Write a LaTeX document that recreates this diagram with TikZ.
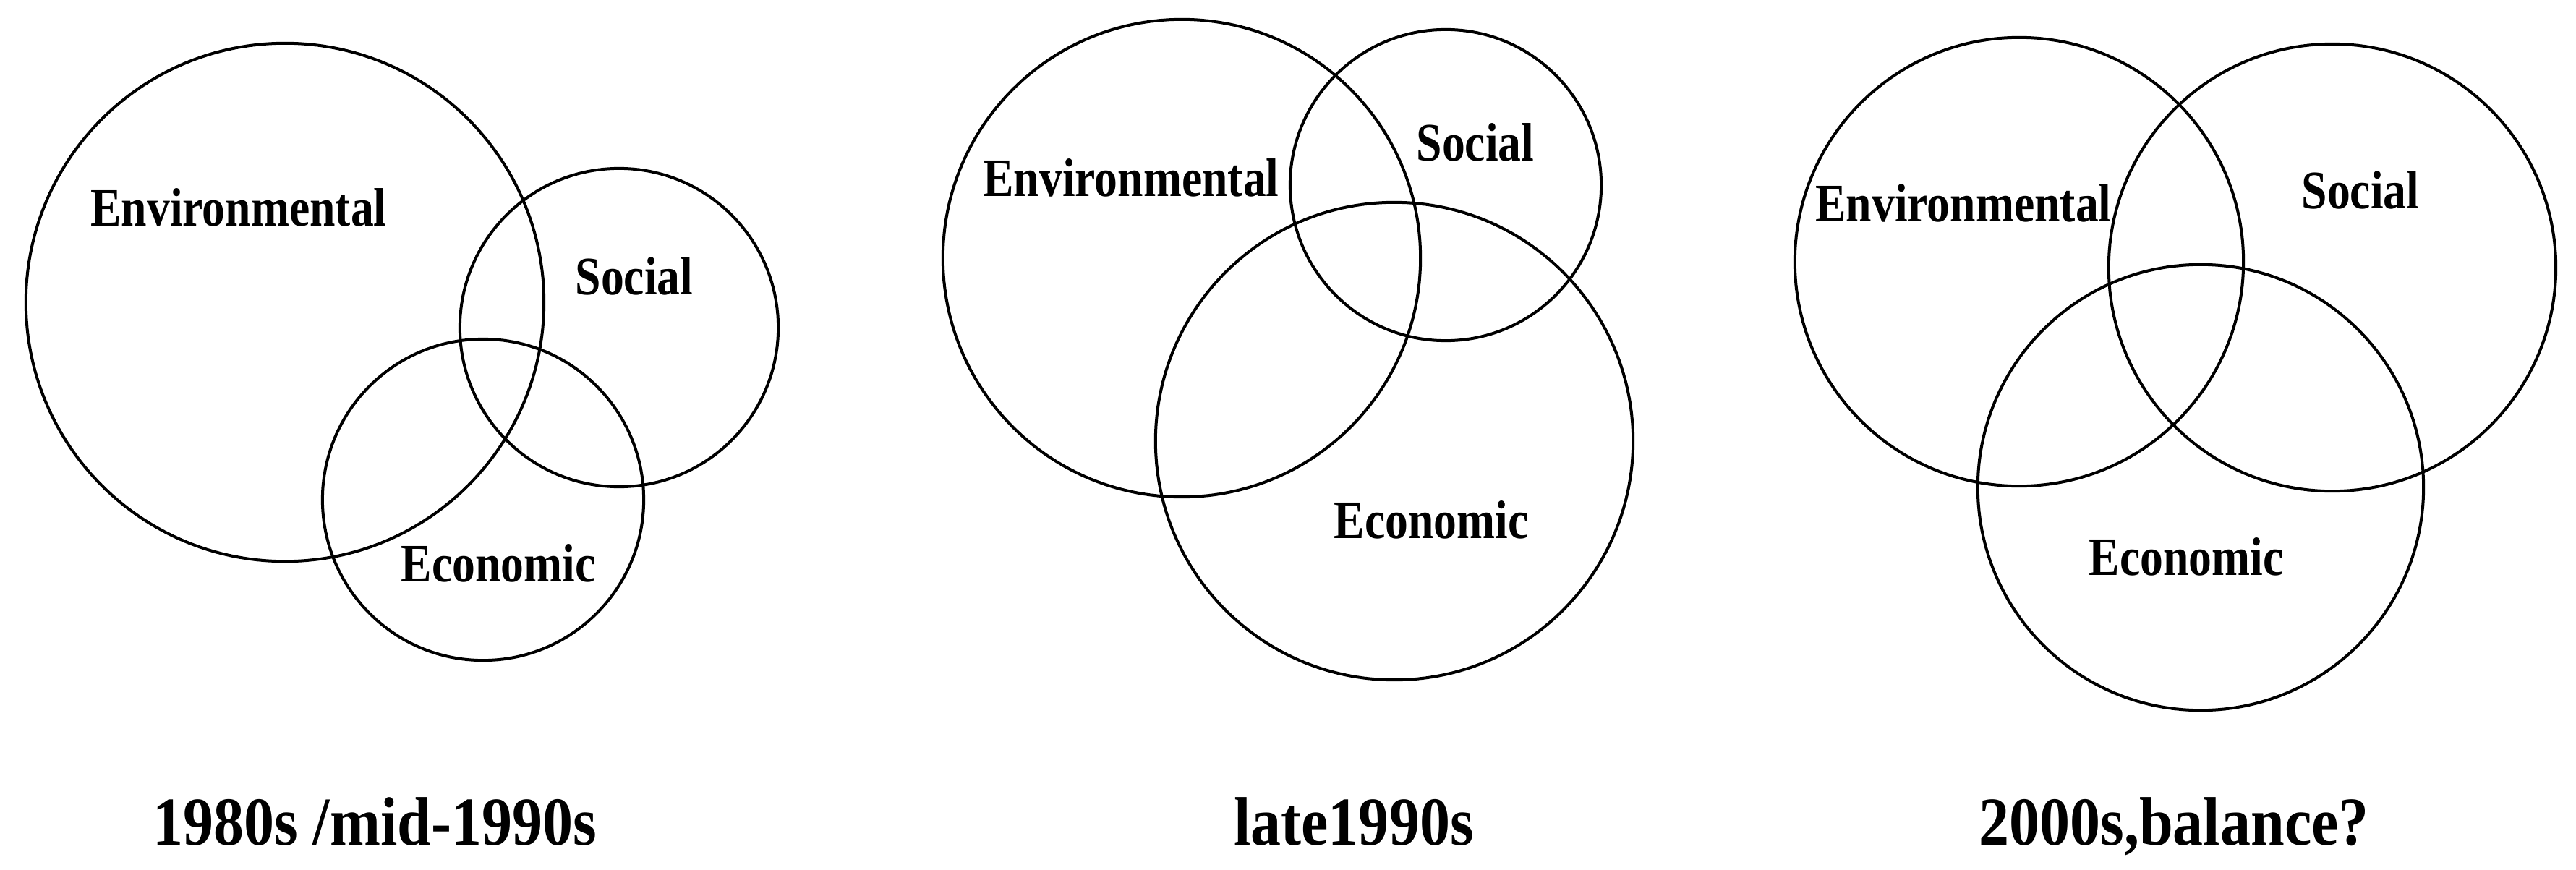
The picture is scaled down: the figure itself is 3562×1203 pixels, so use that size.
\documentclass[tikz,border=0pt]{standalone}
\usepackage{fontspec}
\usepackage{graphicx}
\setmainfont{Liberation Serif}
\newcommand{\inlab}[1]{\scalebox{0.85}[1]{\fontsize{21.3pt}{24pt}\selectfont\bfseries #1}}
\newcommand{\botlab}[1]{\scalebox{0.885}[1]{\fontsize{27pt}{30pt}\selectfont\bfseries #1}}
\begin{document}
\begin{tikzpicture}[x=0.01cm,y=-0.01cm,
  ring/.style={circle, draw=black, line width=0.04cm, inner sep=0pt, outer sep=0pt, minimum size=#1},
  lab/.style={anchor=base, inner sep=0pt},
]
\useasboundingbox[fill=white] (0,0) rectangle (3562,1203);
% panel 1
\node[ring=7.16cm] (e1) at (394,418) {};
\node[ring=4.40cm] (s1) at (856,453) {};
\node[ring=4.44cm] (c1) at (668,691) {};
\node[lab] (le1) at (330,312) {\inlab{Environmental}};
\node[lab] (ls1) at (877,407) {\inlab{Social}};
\node[lab] (lc1) at (689,804) {\inlab{Economic}};
% panel 2
\node[ring=6.60cm] (e2) at (1634,357) {};
\node[ring=4.30cm] (s2) at (1999,256) {};
\node[ring=6.60cm] (c2) at (1928,610) {};
\node[lab] (le2) at (1564,271) {\inlab{Environmental}};
\node[lab] (ls2) at (2040,222) {\inlab{Social}};
\node[lab] (lc2) at (1979,744) {\inlab{Economic}};
% panel 3
\node[ring=6.20cm] (e3) at (2792,362) {};
\node[ring=6.18cm] (s3) at (3225,370) {};
\node[ring=6.16cm] (c3) at (3043,674) {};
\node[lab] (le3) at (2715,306) {\inlab{Environmental}};
\node[lab] (ls3) at (3264,288) {\inlab{Social}};
\node[lab] (lc3) at (3023,795) {\inlab{Economic}};
% titles
\node[lab] (t1) at (518,1168) {\botlab{1980s /mid-1990s}};
\node[lab] (t2) at (1872,1168) {\botlab{late1990s}};
\node[lab] (t3) at (3006,1168) {\botlab{2000s,balance?}};
\end{tikzpicture}
\end{document}
